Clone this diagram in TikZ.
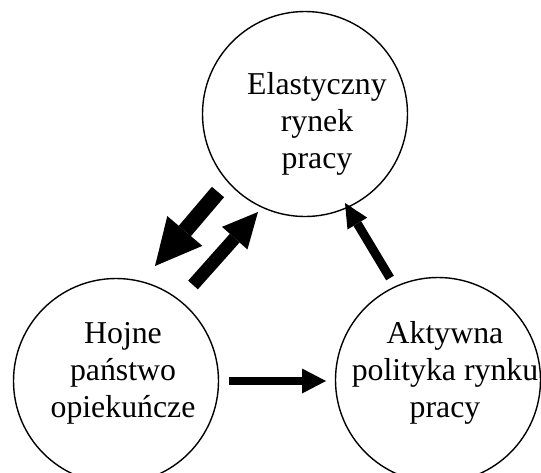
\documentclass[tikz,border=0pt]{standalone}
\usepackage{fontspec}
\setmainfont{Liberation Serif}
\usetikzlibrary{arrows.meta}

\begin{document}
\begin{tikzpicture}[x=1pt,y=-1pt,
  ring/.style={draw,circle,line width=1.4pt,minimum size=205pt,inner sep=0pt},
  caption/.style={align=center,inner sep=0pt,font=\fontsize{31.8}{37}\selectfont},
  flow/.style={line width=#1,line cap=butt},
]
\useasboundingbox (0,0) rectangle (541,472);

% the three circles
\node[ring] (rynek) at (305,114) {};
\node[ring] (panstwo) at (116,381) {};
\node[ring] (polityka) at (438,380) {};

% their captions
\node[caption] (trynek) at (317,124) {Elastyczny\\rynek\\pracy};
\node[caption] (tpanstwo) at (123,373) {Hojne\\państwo\\opiekuńcze};
\node[caption] (tpolityka) at (445,373) {Aktywna\\polityka rynku\\pracy};

% arrow end points in the gaps between the circles
\coordinate (a1s) at (218,192);
\coordinate (a1e) at (155,266);
\coordinate (a2s) at (193,285);
\coordinate (a2e) at (258,212);
\coordinate (a3s) at (229,381);
\coordinate (a3e) at (326,381);
\coordinate (a4s) at (390,278);
\coordinate (a4e) at (345,203);

% labour market <-> welfare state
\draw[flow=16pt,-{Triangle[length=46pt,width=46pt,line width=0pt]}] (a1s) -- (a1e);
\draw[flow=13pt,-{Triangle[length=35pt,width=34pt,line width=0pt]}] (a2s) -- (a2e);
% welfare state -> active policy
\draw[flow=8.5pt,-{Triangle[length=24pt,width=25pt,line width=0pt]}] (a3s) -- (a3e);
% active policy -> labour market
\draw[flow=9pt,-{Triangle[length=24pt,width=23pt,line width=0pt]}] (a4s) -- (a4e);
\end{tikzpicture}
\end{document}
